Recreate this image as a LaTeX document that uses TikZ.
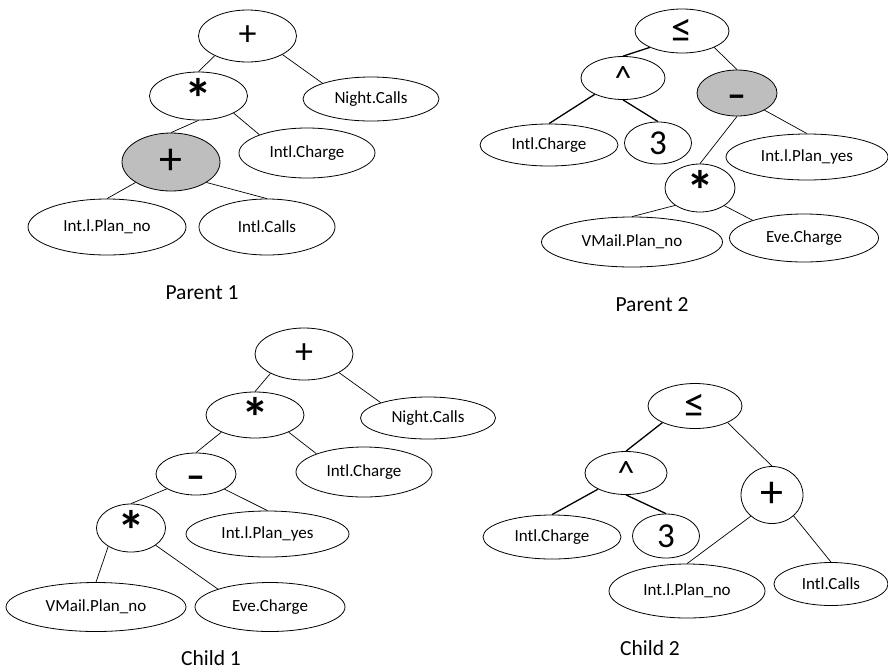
\documentclass[tikz,border=0pt]{standalone}
\usepackage{fontspec}
\setmainfont{Carlito}
\usetikzlibrary{shapes.geometric}
\definecolor{chosengrey}{RGB}{190,190,190}
\tikzset{ell/.style 2 args={minimum width=#1pt, minimum height=#2pt}}
\newcommand{\opstar}{\raisebox{-22pt}[0pt][0pt]{*}}
\begin{document}
\begin{tikzpicture}[x=1pt, y=-1pt,
    leaf/.style ={ellipse, draw, line width=0.8pt, inner sep=0pt, font=\fontsize{17}{20}\selectfont},
    operator/.style ={ellipse, draw, line width=0.8pt, inner sep=0pt, font=\fontsize{36}{40}\selectfont},
    bigop/.style ={font=\fontsize{46}{50}\selectfont},
    starop/.style ={font=\fontsize{56}{60}\selectfont\bfseries},
    dashop/.style ={font=\fontsize{38}{42}\selectfont\bfseries, text height=28pt, text depth=0pt},
    chosen/.style ={fill=chosengrey},
    link/.style ={line width=0.7pt},
    heavylink/.style ={line width=1.3pt},
    caption/.style ={font=\fontsize{21.5}{24}\selectfont}]
   \useasboundingbox (0,0) rectangle (888,670);

   % Parent 1
   \node[operator, ell={98}{52}] (A1) at (247.5,36) {+};
   \node[operator, starop, ell={98}{48}] (B1) at (198.5,96) {\opstar};
   \node[leaf, ell={136}{44}] (C1) at (371,99) {Night.Calls};
   \node[operator, chosen, bigop, ell={98}{58}] (D1) at (171,162) {+};
   \node[leaf, ell={136}{50}] (E1) at (307,153) {Intl.Charge};
   \node[leaf, ell={158}{56}] (F1) at (107,227) {Int.l.Plan\_no};
   \node[leaf, ell={136}{56}] (G1) at (267,227) {Intl.Calls};
   \node[caption] (L1) at (202,293) {Parent 1};

   \draw[link] (A1.211) to (B1.north);
   \draw[link] (A1.332) to (C1.162);
   \draw[link] (B1.south) to (D1.north);
   \draw[link] (B1.334) to (E1.159);
   \draw[link] (D1.210) to (F1.north);
   \draw[link] (D1.330) to (G1.north);

   % Parent 2
   \node[operator, ell={94}{44}, font=\fontsize{42}{46}\selectfont] (A2) at (682,31) {≤};
   \node[operator, ell={84}{43}, font=\fontsize{34}{38}\selectfont] (B2) at (623,78) {\textasciicircum};
   \node[operator, chosen, dashop, ell={80}{46}] (C2) at (737,93) {\textendash};
   \node[leaf, ell={138}{42}] (D2) at (549,145) {Intl.Charge};
   \node[operator, ell={67}{42}, font=\fontsize{35}{38}\selectfont] (E2) at (658,143) {3};
   \node[operator, starop, ell={70}{48}] (F2) at (700,188) {\opstar};
   \node[leaf, ell={162}{46}] (G2) at (807,157) {Int.l.Plan\_yes};
   \node[leaf, ell={181}{50}] (H2) at (632,242) {VMail.Plan\_no};
   \node[leaf, ell={149}{48}] (I2) at (804,238) {Eve.Charge};
   \node[caption] (L2) at (652,305) {Parent 2};

   \draw[heavylink] (A2.207) to (B2.north);
   \draw[link] (A2.333) to (C2.north);
   \draw[heavylink] (B2.210) to (D2.north);
   \draw[heavylink] (B2.south) to (E2.north);
   \draw[link] (C2.south) to (F2.north);
   \draw[link] (C2.328) to (G2.north);
   \draw[link] (F2.215) to (H2.north);
   \draw[link] (F2.324) to (I2.161);

   % Child 1
   \node[operator, ell={98}{52}] (A3) at (304,354) {+};
   \node[operator, starop, ell={98}{46}] (B3) at (255,415) {\opstar};
   \node[leaf, ell={135}{42}] (C3) at (428,418) {Night.Calls};
   \node[operator, dashop, ell={80}{42}] (D3) at (196,474) {\textendash};
   \node[leaf, ell={136}{50}] (E3) at (364,472) {Intl.Charge};
   \node[operator, starop, ell={69}{48}] (F3) at (131,528) {\opstar};
   \node[leaf, ell={163}{46}] (G3) at (267.5,534) {Int.l.Plan\_yes};
   \node[leaf, ell={180}{49}] (H3) at (96,607) {VMail.Plan\_no};
   \node[leaf, ell={150}{49}] (I3) at (270,607) {Eve.Charge};
   \node[caption] (L3) at (211,658) {Child 1};

   \draw[link] (A3.210) to (B3.north);
   \draw[link] (A3.332) to (C3.162);
   \draw[link] (B3.207) to (D3.north);
   \draw[link] (B3.333) to (E3.159);
   \draw[link] (D3.207) to (F3.north);
   \draw[link] (D3.332) to (G3.north);
   \draw[link] (F3.219) to (H3.north);
   \draw[link] (F3.325) to (I3.161);

   % Child 2
   \node[operator, ell={94}{45}, font=\fontsize{42}{46}\selectfont] (A4) at (695,406) {≤};
   \node[operator, ell={82}{43}, font=\fontsize{34}{38}\selectfont] (B4) at (626,473) {\textasciicircum};
   \node[operator, bigop, ell={62}{57}] (C4) at (772,495) {+};
   \node[leaf, ell={138}{44}] (D4) at (552,537) {Intl.Charge};
   \node[operator, ell={67}{44}, font=\fontsize{35}{38}\selectfont] (E4) at (666,536) {3};
   \node[leaf, ell={156}{54}] (F4) at (687,591) {Int.l.Plan\_no};
   \node[leaf, ell={114}{43}] (G4) at (831,584) {Intl.Calls};
   \node[caption] (L4) at (650,648) {Child 2};

   \draw[heavylink] (A4.207) to (B4.north);
   \draw[link] (A4.333) to (C4.north);
   \draw[heavylink] (B4.210) to (D4.north);
   \draw[heavylink] (B4.south) to (E4.north);
   \draw[link] (C4.225) to (F4.north);
   \draw[link] (C4.316) to (G4.north);
 \end{tikzpicture}
\end{document}
